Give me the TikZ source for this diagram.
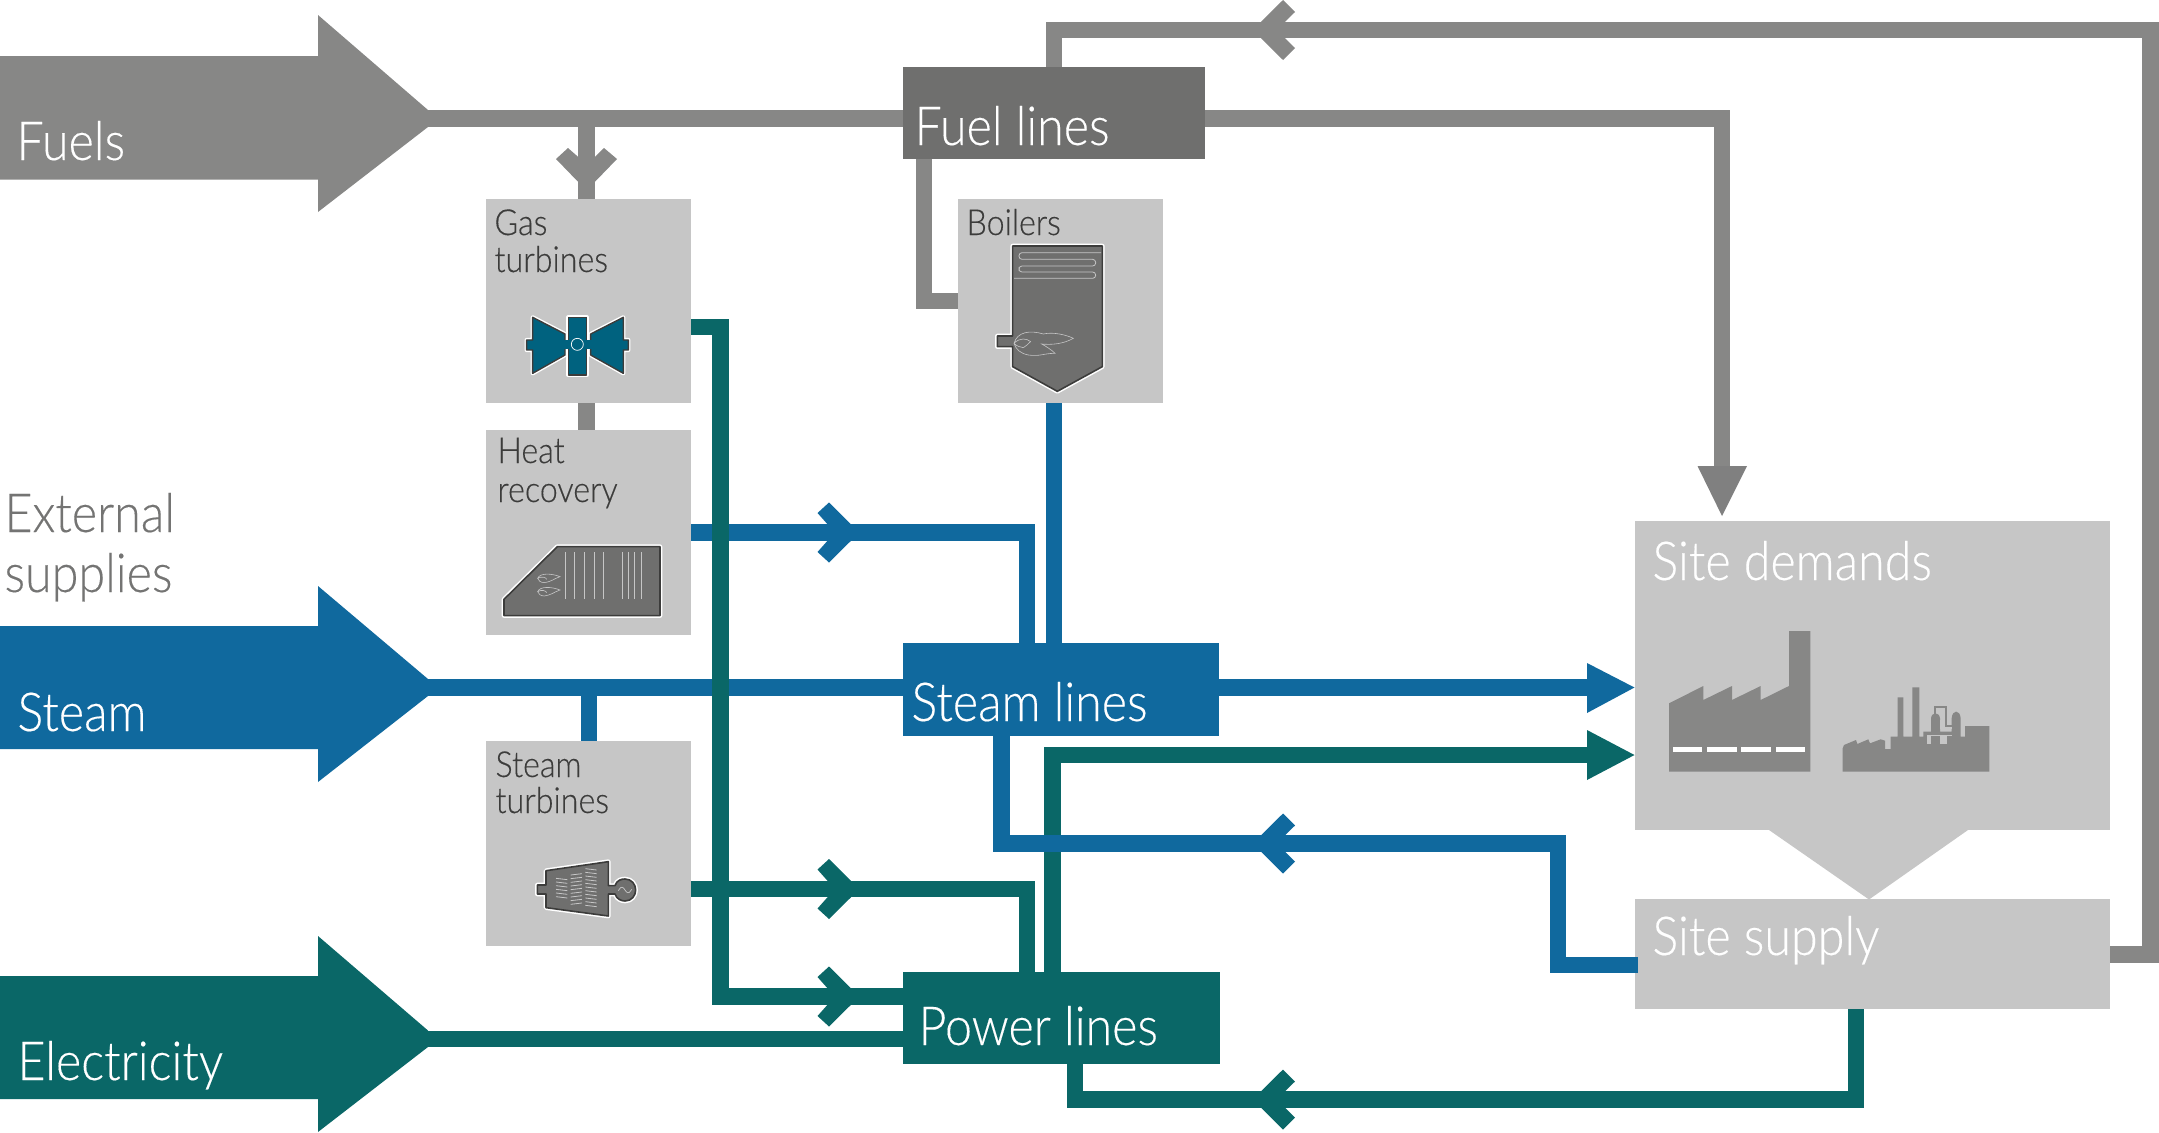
\documentclass[tikz,border=0pt]{standalone}
\usepackage{fontspec}
\setmainfont[FakeStretch=0.90,FakeBold=0.25]{Lato Light}
\usetikzlibrary{fit}
\definecolor{cfuel}{HTML}{878786}
\definecolor{cfuelbox}{HTML}{6F6F6E}
\definecolor{chead}{HTML}{808080}
\definecolor{csteam}{HTML}{10699E}
\definecolor{cpower}{HTML}{0A6767}
\definecolor{cbox}{HTML}{C6C6C6}
\definecolor{cicon}{HTML}{00627F}
\definecolor{cdark}{HTML}{3C3C3B}
\definecolor{cext}{HTML}{747473}
\tikzset{
  every node/.style={inner sep=0pt,outer sep=0pt},
  rectbox/.style={fit={#1},fill=cbox,draw=none},
  fuelbox/.style={fit={#1},fill=cfuelbox,draw=none},
  steambox/.style={fit={#1},fill=csteam,draw=none},
  powerbox/.style={fit={#1},fill=cpower,draw=none},
  link/.style={line width=16.5bp,line cap=butt,line join=miter},
  fuelline/.style={link,draw=cfuel},
  steamline/.style={link,draw=csteam},
  powerline/.style={link,draw=cpower},
  bigtext/.style={anchor=base west,text=white,font=\fontsize{54}{60}\selectfont},
  smalltext/.style={anchor=base west,text=cdark,font=\fontsize{36}{40}\selectfont},
  exttext/.style={anchor=base west,text=cext,font=\fontsize{54}{60}\selectfont},
  iconbody/.style={fill=cfuelbox,draw=cdark,line width=1.6bp,line join=round,preaction={draw=white,line width=4.6bp,line join=round}},
  turbinebody/.style={fill=cicon,draw=cdark,line width=1.4bp,line join=round,preaction={draw=white,line width=4.2bp,line join=round}},
  zoomed/.style={x=0.33333bp,y=-0.33333bp}
}
% chevrons on the connectors: right-pointing and left-pointing
\newcommand{\chevR}[3]{\fill[#1] (#2,#3) +(-23.5,-8.25) -- +(-33.5,-19.5) -- +(-22,-30) -- +(0,-8.25) -- +(0,8.25) -- +(-22,30) -- +(-33.5,19.5) -- +(-23.5,8.25) -- cycle;}
\newcommand{\chevL}[3]{\fill[#1] (#2,#3) +(24,-8.25) -- +(34,-18) -- +(22,-30) -- +(0,-8.25) -- +(0,8.25) -- +(22,30) -- +(34,18) -- +(24,8.25) -- cycle;}
\begin{document}
\begin{tikzpicture}[x=1bp,y=-1bp]
\useasboundingbox (0,0) rectangle (2159,1132);

% junction coordinates
\coordinate (jTop) at (2150.5,30);
\coordinate (jTopL) at (1054,30);
\coordinate (jSupplyR) at (2110,954.5);
\coordinate (jFuelDown) at (1722,118.5);
\coordinate (jFuelEnd) at (1722,470);
\coordinate (jHeatY) at (1027,532.5);
\coordinate (jPowerTop) at (1052.5,755);
\coordinate (jGasX) at (720.5,327);
\coordinate (jGasB) at (720.5,996.5);
\coordinate (jStY) at (1027,889);
\coordinate (jRet) at (1001.5,843.5);
\coordinate (jRetB) at (1558,843.5);
\coordinate (jRetC) at (1638,965);
\coordinate (jPowB) at (1075,1099.5);
\coordinate (jPowC) at (1856,1099.5);
\coordinate (jBoilX) at (924,301);
\coordinate (jGasV) at (586.5,118.5);
\coordinate (jSttV) at (589,687.5);
\coordinate (jBoilV) at (1054,403);
\coordinate (jSteamEnd) at (1590,687.5);
\coordinate (jPowerEnd) at (1590,755);

% big arrows
\fill[cfuel] (0,56) -- (318,56) -- (318,15) -- (428,110) -- (428,127) -- (318,212) -- (318,179.5) -- (0,179.5) -- cycle;
\fill[csteam] (0,626) -- (318,626) -- (318,586) -- (428,679) -- (428,696) -- (318,782) -- (318,749) -- (0,749) -- cycle;
\fill[cpower] (0,976) -- (318,976) -- (318,936) -- (428,1030.5) -- (428,1047) -- (318,1132) -- (318,1099) -- (0,1099) -- cycle;
\coordinate (fuelsTip) at (428,118.5);
\coordinate (steamTip) at (428,687.5);
\coordinate (elecTip) at (428,1039);

% boxes
\node[rectbox={(486,199)(691,403)}] (gas) {};
\node[rectbox={(486,430)(691,635)}] (heat) {};
\node[rectbox={(958,199)(1163,403)}] (boil) {};
\node[rectbox={(486,741)(691,946)}] (stt) {};
\node[rectbox={(1634.5,521)(2110,830)}] (demand) {};
\node[rectbox={(1634.5,899)(2110,1009)}] (supply) {};
\fill[cbox] (1769,830) -- (1968,830) -- (1869,899.5) -- cycle;
\node[fuelbox={(903,67)(1205,159)}] (fuelL) {};
\node[steambox={(903,643)(1219,736)}] (steamL) {};
\node[powerbox={(903,972)(1219.5,1064)}] (powerL) {};

% fuel connectors
\draw[fuelline] (fuelsTip) -- (fuelL.west |- fuelsTip);
\draw[fuelline] (jGasV) -- (gas.north -| jGasV);
\draw[fuelline] (gas.south -| jGasV) -- (heat.north -| jGasV);
\draw[fuelline] (fuelL.east |- fuelsTip) -| (jFuelEnd);
\draw[fuelline] (fuelL.south -| jBoilX) |- (boil.west |- jBoilX);
\draw[fuelline] (jSupplyR) -| (jTop) -- (jTopL) -- (fuelL.north -| jTopL);
\fill[chead] (1697.5,466) -- (1747,466) -- (1722,516) -- cycle;
\fill[cfuel] (578.25,182) -- (556,159) -- (568,148) -- (578.25,157) -- (594.75,157) -- (604,148) -- (617,159) -- (594.75,182) -- cycle;
\chevL{cfuel}{1261}{30}

% steam connectors
\draw[steamline] (steamTip) -- (steamL.west |- steamTip);
\draw[steamline] (jSttV) -- (stt.north -| jSttV);
\draw[steamline] (jBoilV) -- (steamL.north -| jBoilV);
\draw[steamline] (heat.east |- jHeatY) -| (steamL.north -| jHeatY);
\chevR{csteam}{851}{532.5}
\draw[steamline] (steamL.east |- steamTip) -- (jSteamEnd);
\fill[csteam] (1587,663) -- (1634.5,687.5) -- (1587,713) -- cycle;

% power connectors
\draw[powerline] (elecTip) -- (powerL.west |- elecTip);
\draw[powerline] (gas.east |- jGasX) -| (jGasB) -- (powerL.west |- jGasB);
\chevR{cpower}{851}{996.5}
\draw[powerline] (stt.east |- jStY) -| (powerL.north -| jStY);
\chevR{cpower}{851}{889}
\draw[powerline] (powerL.north -| jPowerTop) |- (jPowerEnd);
\fill[cpower] (1587,730) -- (1634.5,755) -- (1587,780) -- cycle;
\draw[powerline] (supply.south -| jPowC) |- (jPowB) -- (powerL.south -| jPowB);
\chevL{cpower}{1261}{1099.5}

% steam return on top of the power line
\draw[steamline] (steamL.south -| jRet) |- (jRetB) |- (jRetC);
\chevL{csteam}{1261}{843.5}

% gas turbine icon
\begin{scope}[shift={(470,180)},zoomed]
  \path[turbinebody] (188,412) -- (285,462) -- (285,525) -- (188,580) -- (188,510) -- (170,510) -- (170,480) -- (188,480) -- cycle;
  \path[turbinebody] (460,412) -- (362,462) -- (362,525) -- (460,580) -- (460,510) -- (475,510) -- (475,480) -- (460,480) -- cycle;
  \path[turbinebody] (295,412) rectangle (350,585);
  \fill[cicon] (278,481) rectangle (370,508);
  \draw[white,line width=0.7bp] (322,493) circle [radius=18];
\end{scope}

% heat recovery icon
\begin{scope}[shift={(470,180)},zoomed]
  \path[iconbody] (262,1100) -- (570,1100) -- (570,1307) -- (102,1307) -- (102,1258) -- cycle;
  \foreach \vx in {285,314,343,372,401,457,476,494,513}
    \draw[cbox,line width=0.8bp] (\vx,1117) -- (\vx,1258);
  \foreach \fy in {0,40}{
    \draw[cbox,line width=0.6bp] (203,1195+\fy) .. controls (210,1178+\fy) and (245,1180+\fy) .. (270,1190+\fy) .. controls (250,1197+\fy) and (245,1205+\fy) .. (222,1208+\fy) .. controls (212,1207+\fy) and (205,1203+\fy) .. (203,1195+\fy) .. controls (215,1188+\fy) and (228,1192+\fy) .. (230,1198+\fy);}
\end{scope}

% boiler icon
\begin{scope}[shift={(940,190)},zoomed]
  \path[iconbody] (218,168) -- (487,168) -- (487,530) -- (352,604) -- (218,530) -- (218,470) -- (172,470) -- (172,438) -- (218,438) -- cycle;
  \draw[cbox,line width=0.8bp,rounded corners=3bp] (483,188) -- (237,188) -- (237,208) -- (467,208) -- (467,228) -- (237,228) -- (237,246) -- (467,246) -- (467,265) -- (222,265);
  \draw[cbox,line width=0.6bp] (222,460) .. controls (232,425) and (270,420) .. (310,432) .. controls (340,425) and (380,435) .. (400,445) .. controls (370,462) and (335,465) .. (305,462) .. controls (320,470) and (335,480) .. (345,490) .. controls (310,490) and (300,500) .. (265,495) .. controls (240,490) and (228,478) .. (222,460) .. controls (240,442) and (260,445) .. (272,455) .. controls (262,462) and (258,470) .. (250,473) .. controls (240,472) and (230,468) .. (222,460);
\end{scope}

% steam turbine icon
\begin{scope}[shift={(480,740)},zoomed]
  \path[iconbody] (198,392) -- (385,365) -- (385,437) -- (405,437) .. controls (410,420) and (425,417) .. (435,417) .. controls (455,417) and (467,433) .. (467,450) .. controls (467,467) and (455,483) .. (435,483) .. controls (425,483) and (410,478) .. (405,462) -- (385,462) -- (385,528) -- (198,503) -- (198,462) -- (172,462) -- (172,435) -- (198,435) -- cycle;
  \foreach \ly in {415,426,437,448,459,470}
    \draw[cbox,line width=0.8bp] (228,\ly) -- (262,\ly+4);
  \foreach \ly in {405,416,427,438,449,460,471,482,493}
    \draw[cbox,line width=0.8bp] (272,\ly) -- (306,\ly-4);
  \foreach \ly in {386,397,408,419,430,441,452,463,474,485,496}
    \draw[cbox,line width=0.8bp] (316,\ly) -- (350,\ly+4);
  \draw[cbox,line width=0.7bp] (415,452) .. controls (424,435) and (430,442) .. (435,450) .. controls (440,458) and (446,465) .. (455,448);
\end{scope}

% site demand icons
\begin{scope}[shift={(1640,620)},zoomed]
  \fill[cfuel] (87,455) -- (87,250) -- (190,198) -- (190,240) -- (276,198) -- (276,240) -- (362,198) -- (362,240) -- (447,198) -- (447,33) -- (511,33) -- (511,455) -- cycle;
  \foreach \dx in {98,202,304,408}
    \fill[white] (\dx,382) rectangle (\dx+88,395);
  \fill[cfuel] (608,455) -- (608,385) -- (612,375) -- (648,360) -- (652,372) -- (685,358) -- (690,370) -- (722,358) -- (735,362) -- (735,387) -- (752,387) -- (752,350) -- (773,350) -- (773,232) -- (790,232) -- (790,350) -- (817,350) -- (817,202) -- (838,202) -- (838,350) -- (850,350) -- (850,335) -- (873,335) -- (873,295) .. controls (875,275) and (898,275) .. (900,295) -- (900,335) -- (935,335) -- (935,295) .. controls (937,268) and (960,268) .. (962,295) -- (962,350) -- (975,350) -- (975,318) -- (1048,318) -- (1048,455) -- cycle;
  \fill[cbox] (862,349) rectangle (872,373);
  \fill[cbox] (900,349) rectangle (920,373);
  \fill[cbox] (860,344) rectangle (935,349);
  \fill[cbox] (900,300) rectangle (912,328);
  \fill[cbox] (912,316) rectangle (935,328);
  \draw[cfuel,line width=2.2bp] (885,285) -- (885,261) -- (918,261) -- (918,318) -- (935,318);
\end{scope}

% labels
\node[bigtext] (tFuels) at (16.5,160) {Fuels};
\node[bigtext] (tFuelL) at (914.5,145) {Fuel lines};
\node[bigtext] (tSteam) at (17.5,731) {Steam};
\node[bigtext] (tSteamL) at (911.5,721) {Steam lines};
\node[bigtext] (tElec) at (17.5,1080) {Electricity};
\node[bigtext] (tPowerL) at (918.5,1045) {Power lines};
\node[bigtext] (tDemand) at (1652.5,580) {Site demands};
\node[bigtext] (tSupply) at (1652.5,955) {Site supply};
\node[exttext] (tExt1) at (4.5,532) {External};
\node[exttext] (tExt2) at (4.5,592) {supplies};
\node[smalltext] (tGas1) at (494.5,235) {Gas};
\node[smalltext] (tGas2) at (494.5,272) {turbines};
\node[smalltext] (tHeat1) at (497.5,463) {Heat};
\node[smalltext] (tHeat2) at (497.5,502) {recovery};
\node[smalltext] (tBoil) at (966.5,235) {Boilers};
\node[smalltext] (tStt1) at (495.5,777) {Steam};
\node[smalltext] (tStt2) at (495.5,813) {turbines};
\end{tikzpicture}
\end{document}
